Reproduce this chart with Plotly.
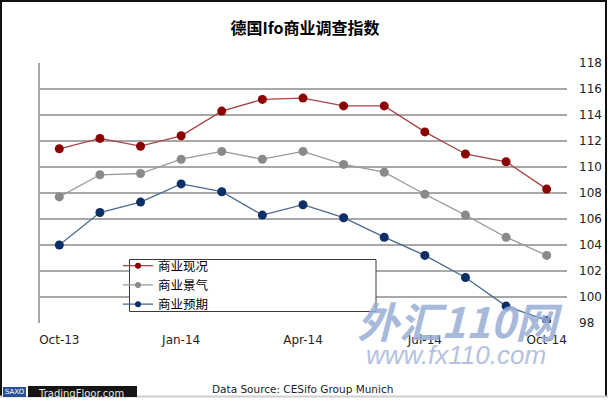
import plotly.graph_objects as go

# monthly Ifo readings, Oct-13 .. Oct-14
months = ["Oct-13", "Nov-13", "Dec-13", "Jan-14", "Feb-14", "Mar-14", "Apr-14",
          "May-14", "Jun-14", "Jul-14", "Aug-14", "Sep-14", "Oct-14"]
current = [111.4, 112.2, 111.6, 112.4, 114.3, 115.2, 115.3, 114.7, 114.7, 112.7, 111.0, 110.4, 108.3]
climate = [107.7, 109.4, 109.5, 110.6, 111.2, 110.6, 111.2, 110.2, 109.6, 107.9, 106.3, 104.6, 103.2]
expect = [104.0, 106.5, 107.3, 108.7, 108.1, 106.3, 107.1, 106.1, 104.6, 103.2, 101.5, 99.3, 98.2]

names = ["商业现况", "商业景气", "商业预期"]
xticks = ["Oct-13", "Jan-14", "Apr-14", "Jul-14", "Oct-14"]

W, H = 608, 417
L, R, T, B = 39, 567, 63, 323


def px(x):
    return (x - L) / (R - L)


def py(y):
    return (B - y) / (B - T)


fig = go.Figure()
styles = [("#a84444", "#8b0000"), ("#9a9a9a", "#8a8a8a"), ("#4a6a90", "#0b2f66")]
for vals, name, (lc, mc) in zip([current, climate, expect], names, styles):
    fig.add_trace(go.Scatter(x=months, y=vals, name=name, mode="lines+markers", showlegend=False,
                             line=dict(color=lc, width=1.3),
                             marker=dict(color=mc, size=9)))
# legend entries with the small dot the original uses
for name, (lc, mc) in zip(names, styles):
    fig.add_trace(go.Scatter(x=[None], y=[None], name=name, mode="lines+markers",
                             line=dict(color=lc, width=1.3), marker=dict(color=mc, size=6)))

shapes = [
    # left plot border
    dict(type="line", xref="paper", yref="paper", x0=0, x1=0, y0=0, y1=1,
         line=dict(color="#a8a8a8", width=2), layer="below"),
    # legend box
    dict(type="rect", xref="paper", yref="paper", x0=px(129.5), x1=px(376),
         y0=py(311.5), y1=py(259.5), line=dict(color="#3a3a3a", width=1),
         fillcolor="white", layer="above"),
    # outer frame
    dict(type="line", xref="paper", yref="paper", x0=px(1), x1=px(1), y0=py(0), y1=py(396),
         line=dict(color="#111", width=2)),
    dict(type="line", xref="paper", yref="paper", x0=px(0), x1=px(607), y0=py(1), y1=py(1),
         line=dict(color="#111", width=2)),
    dict(type="line", xref="paper", yref="paper", x0=px(606), x1=px(606), y0=py(0), y1=py(396),
         line=dict(color="#111", width=2)),
    # bottom strip
    dict(type="line", xref="paper", yref="paper", x0=px(0), x1=px(608), y0=py(396.5), y1=py(396.5),
         line=dict(color="#cfcfcf", width=2)),
    dict(type="rect", xref="paper", yref="paper", x0=px(3), x1=px(26), y0=py(397), y1=py(387),
         fillcolor="#2b4f9a", line=dict(width=0)),
    dict(type="rect", xref="paper", yref="paper", x0=px(28), x1=px(137), y0=py(397), y1=py(386),
         fillcolor="#151515", line=dict(width=0)),
]

annotations = [
    dict(text="Data Source: CESifo Group Munich", x=px(302), y=py(389), xanchor="center", yanchor="middle",
         font=dict(family="DejaVu Sans", size=10.5, color="#222")),
    dict(text="SAXO", x=px(14.5), y=py(392), xanchor="center", yanchor="middle",
         font=dict(family="DejaVu Sans", size=7, color="white")),
    dict(text="TradingFloor.com", x=px(36), y=py(393), xanchor="left", yanchor="middle",
         font=dict(family="DejaVu Sans", size=10, color="#e8e8e8")),
    # watermark
    dict(text="外汇110网", x=px(460), y=py(319), xanchor="center", yanchor="middle",
         font=dict(family="Noto Sans CJK SC", size=42, color="#9aaed6", weight="bold", style="italic"),
         opacity=0.85),
    dict(text="www.fx110.com", x=px(456), y=py(355), xanchor="center", yanchor="middle",
         font=dict(family="Liberation Sans", size=26, color="#a9b8da", style="italic"),
         opacity=0.85),
]
for a in annotations:
    a.update(xref="paper", yref="paper", showarrow=False)

fig.update_layout(
    width=W, height=H,
    margin=dict(l=L, r=W - R, t=T, b=H - B, autoexpand=False),
    paper_bgcolor="white", plot_bgcolor="white",
    title=dict(text="德国Ifo商业调查指数", x=305 / W, xanchor="center", y=1 - 28 / H, yanchor="middle",
               font=dict(family="Noto Sans CJK SC", size=16, color="black", weight="bold")),
    xaxis=dict(type="category", range=[-0.5, 12.5], tickmode="array", tickvals=xticks, ticktext=xticks,
               showgrid=False, showline=False, ticks="", ticklabelstandoff=8,
               tickfont=dict(family="DejaVu Sans", size=12, color="#222")),
    yaxis=dict(side="right", range=[98, 118], dtick=2, showgrid=True, gridcolor="#a8a8a8", gridwidth=1.5,
               zeroline=False, showline=False, ticks="", ticklabelstandoff=11,
               tickfont=dict(family="DejaVu Sans", size=12, color="#222")),
    legend=dict(x=px(118), y=py(251), xanchor="left", yanchor="top", bgcolor="rgba(0,0,0,0)",
                borderwidth=0, tracegroupgap=0,
                font=dict(family="Noto Sans CJK SC", size=12.5, color="black")),
    shapes=shapes,
    annotations=annotations,
)

# the page's default body margin would shift the 608x417 figure inside the window
fig.write_html("out.html", config={"displayModeBar": False},
               post_script="document.body.style.margin='0';")
